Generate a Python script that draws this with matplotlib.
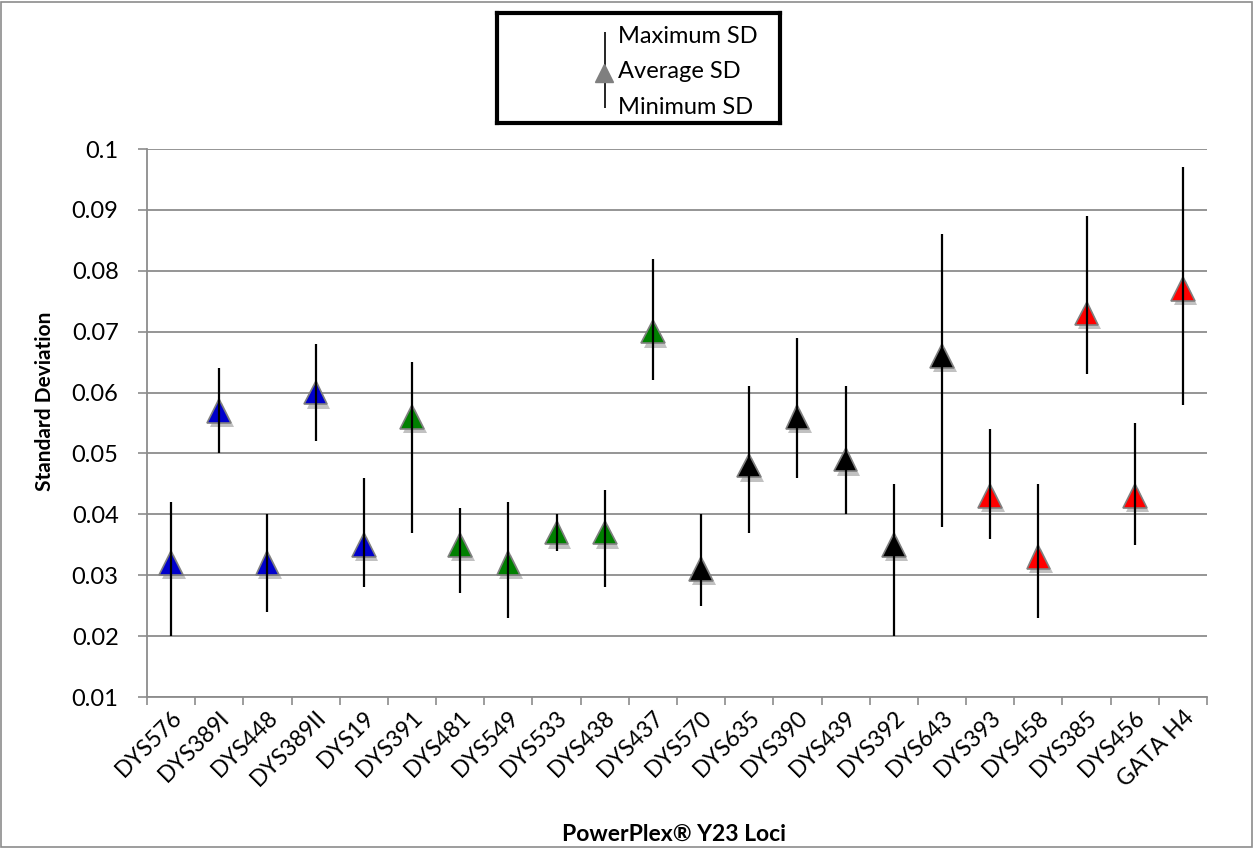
import numpy as np
import matplotlib
matplotlib.use("Agg")
from matplotlib import pyplot as plt
from matplotlib import patheffects as pe
from matplotlib.patches import Rectangle

plt.rcParams['font.family'] = ['Lato', 'DejaVu Sans']

loci = ["DYS576", "DYS389I", "DYS448", "DYS389II", "DYS19", "DYS391", "DYS481",
        "DYS549", "DYS533", "DYS438", "DYS437", "DYS570", "DYS635", "DYS390",
        "DYS439", "DYS392", "DYS643", "DYS393", "DYS458", "DYS385", "DYS456", "GATA H4"]
avg_sd = [0.032, 0.057, 0.032, 0.060, 0.035, 0.056, 0.035, 0.032, 0.037, 0.037, 0.070,
          0.031, 0.048, 0.056, 0.049, 0.035, 0.066, 0.043, 0.033, 0.073, 0.043, 0.077]
max_sd = [0.042, 0.064, 0.040, 0.068, 0.046, 0.065, 0.041, 0.042, 0.040, 0.044, 0.082,
          0.040, 0.061, 0.069, 0.061, 0.045, 0.086, 0.054, 0.045, 0.089, 0.055, 0.097]
min_sd = [0.020, 0.050, 0.024, 0.052, 0.028, 0.037, 0.027, 0.023, 0.034, 0.028, 0.062,
          0.025, 0.037, 0.046, 0.040, 0.020, 0.038, 0.036, 0.023, 0.063, 0.035, 0.058]
dye = ["blue"] * 5 + ["green"] * 6 + ["black"] * 6 + ["red"] * 5
dye_colors = {"blue": "#0000CC", "green": "#008000", "black": "#000000", "red": "#FF0000"}

fig = plt.figure(figsize=(12.55, 8.48), dpi=100)
ax = fig.add_axes([147 / 1255, 1 - 697 / 848, 1060 / 1255, 548 / 848])

x = np.arange(len(loci))
shadow = [pe.SimplePatchShadow(offset=(2, -3), shadow_rgbFace="#777777", alpha=0.45), pe.Normal()]
for i in x:
    ax.plot(i, avg_sd[i], marker="^", markersize=17, color=dye_colors[dye[i]],
            markeredgecolor="#7f7f7f", markeredgewidth=1.2, linestyle="none",
            zorder=3, path_effects=shadow)
ax.vlines(x, min_sd, max_sd, color="black", linewidth=1.6, zorder=4)

ax.set_xlim(-0.5, len(loci) - 0.5)
ax.set_ylim(0.01, 0.1)
ax.set_yticks(np.arange(0.01, 0.101, 0.01))
ax.set_yticklabels(["0.01", "0.02", "0.03", "0.04", "0.05", "0.06", "0.07", "0.08", "0.09", "0.1"])
ax.yaxis.grid(True, color="#8c8c8c", linewidth=1.3)
ax.set_axisbelow(True)

ax.set_xticks(x)
ax.set_xticklabels(loci, rotation=45, ha="right", rotation_mode="anchor")
ax.set_xticks(np.arange(-0.5, len(loci), 1), minor=True)
ax.tick_params(axis="x", which="major", length=0, labelsize=16.5, pad=7)
ax.tick_params(axis="x", which="minor", length=6, color="#8c8c8c", width=1.2)
ax.tick_params(axis="y", length=6.5, color="#8c8c8c", width=1.2, labelsize=17, pad=14)

for side in ["top", "right"]:
    ax.spines[side].set_visible(False)
for side in ["left", "bottom"]:
    ax.spines[side].set_color("#8c8c8c")
    ax.spines[side].set_linewidth(1.3)

ax.set_ylabel("Standard Deviation", fontsize=15, fontweight="bold")
ax.yaxis.set_label_coords(-0.087, 0.54)
ax.set_xlabel("PowerPlex\u00ae Y23 Loci", fontsize=16.5, fontweight="bold")
ax.xaxis.set_label_coords(0.497, -0.232)

# legend box drawn by hand
lg = fig.add_axes([497 / 1255, 1 - 123 / 848, 283 / 1255, 110 / 848])
lg.set_xlim(0, 283)
lg.set_ylim(110, 0)
lg.set_xticks([])
lg.set_yticks([])
for s in lg.spines.values():
    s.set_linewidth(3)
lg.vlines(108, 19, 95, color="black", linewidth=1.2)
lg.plot(107, 60, marker="^", markersize=13, color="#7f7f7f", markeredgecolor="#7f7f7f")
for ty, txt in [(24, "Maximum SD"), (59, "Average SD"), (94, "Minimum SD")]:
    lg.text(121, ty, txt, fontsize=17, va="center", ha="left")

fig.patches.append(Rectangle((0.001, 0.001), 0.997, 0.997, transform=fig.transFigure,
                             fill=False, edgecolor="#8c8c8c", linewidth=1.2))

fig.savefig("out.png", dpi=100)
